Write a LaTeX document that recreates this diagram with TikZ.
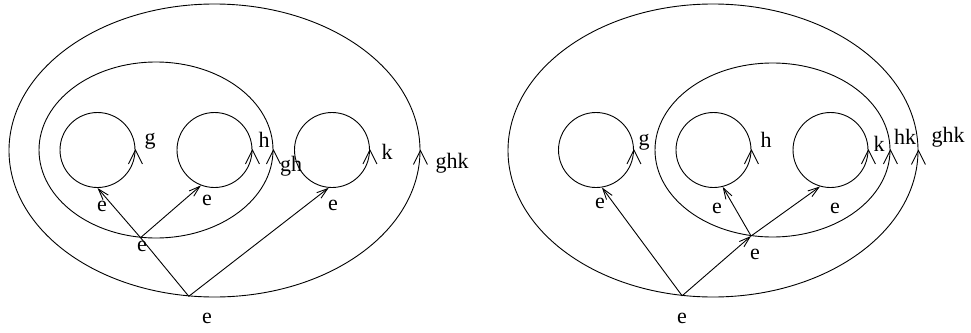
\documentclass[tikz,border=0pt]{standalone}
\usepackage{fontspec}
\setmainfont{Liberation Serif}
\usetikzlibrary{arrows.meta,shapes.geometric}
\tikzset{
  loopc/.style={draw,circle,minimum size=75pt,inner sep=0pt},
  oval/.style={draw,ellipse,inner sep=0pt},
  arr/.style={-{Straight Barb[length=11pt,width=7pt]}},
  lbl/.style={inner sep=0pt},
}
\begin{document}
\begin{tikzpicture}[x=1pt,y=-1pt,line width=0.9pt,font=\fontsize{22}{26}\selectfont]
\useasboundingbox (0,0) rectangle (971,332);
\def\cy{150}
\def\tk{7}

% Left diagram: g, h inside gh, then k
\begin{scope}[shift={(0,0)}]
  \node[oval,minimum width=411pt,minimum height=293pt] (outL) at (214.5,150.5) {};
  \node[oval,minimum width=234pt,minimum height=176pt] (inL) at (156,\cy) {};
  \node[loopc] (cgL) at (97.5,\cy) {};
  \node[loopc] (chL) at (214.5,\cy) {};
  \node[loopc] (ckL) at (332,\cy) {};
  \coordinate (midL) at (inL.260);
  \coordinate (botL) at (outL.260);
  \foreach \n in {cgL,chL,inL,ckL,outL}
    \draw (\n.east) ++(-\tk,14) -- ++(\tk,-14) -- ++(\tk,14);
  \draw[arr] (midL) -- (cgL.south);
  \draw[arr] (midL) -- (chL.249);
  \draw (botL) -- (midL);
  \draw[arr] (botL) -- (ckL.265);
  \node[lbl] (gL) at (150,141) {g};
  \node[lbl] (hL) at (264,140) {h};
  \node[lbl] (ghL) at (291,166) {gh};
  \node[lbl] (kL) at (387,152) {k};
  \node[lbl] (ghkL) at (452,163) {ghk};
  \node[lbl] (e1L) at (102,206) {e};
  \node[lbl] (e2L) at (207,200) {e};
  \node[lbl] (e3L) at (333,205) {e};
  \node[lbl] (e4L) at (142,246) {e};
  \node[lbl] (e5L) at (207,318) {e};
\end{scope}

% Right diagram: g, then h, k inside hk
\begin{scope}[shift={(498.5,0)}]
  \node[oval,minimum width=410pt,minimum height=293pt] (outR) at (214.5,150.5) {};
  \node[oval,minimum width=235pt,minimum height=174pt] (inR) at (274,\cy) {};
  \node[loopc] (cgR) at (97.5,\cy) {};
  \node[loopc] (chR) at (215,\cy) {};
  \node[loopc] (ckR) at (332,\cy) {};
  \coordinate (midR) at (inR.256);
  \coordinate (botR) at (outR.258);
  \foreach \n in {cgR,chR,ckR,inR,outR}
    \draw (\n.east) ++(-\tk,14) -- ++(\tk,-14) -- ++(\tk,14);
  \draw[arr] (botR) -- (midR);
  \draw[arr] (botR) -- (cgR.279);
  \draw[arr] (midR) -- (chR.284);
  \draw[arr] (midR) -- (ckR.254);
  \node[lbl] (gR) at (145.5,142) {g};
  \node[lbl] (hR) at (267.5,140) {h};
  \node[lbl] (kR) at (380.5,144) {k};
  \node[lbl] (hkR) at (406.5,137) {hk};
  \node[lbl] (ghkR) at (449.5,137) {ghk};
  \node[lbl] (e1R) at (101.5,203) {e};
  \node[lbl] (e2R) at (218.5,208) {e};
  \node[lbl] (e3R) at (336.5,208) {e};
  \node[lbl] (e4R) at (256.5,254) {e};
  \node[lbl] (e5R) at (183.5,318) {e};
\end{scope}
\end{tikzpicture}
\end{document}
